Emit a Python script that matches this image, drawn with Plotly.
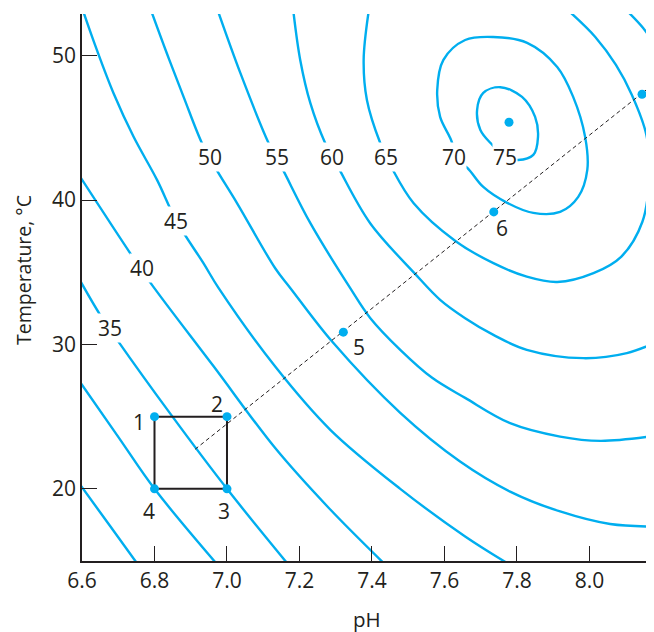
import plotly.graph_objects as go

# ---- data (pH, temperature in °C) ----
c25_ph = [6.59, 6.673, 6.755]
c25_t = [20.45, 17.58, 14.73]

c30_ph = [6.59, 6.70, 6.80, 6.97]
c30_t = [27.56, 23.6, 20.0, 14.85]

c35_ph = [6.59, 6.65, 6.697, 6.844, 7.0, 7.165]
c35_t = [34.63, 32.05, 30.32, 25.19, 20.0, 14.88]

c40_ph = [6.59, 6.742, 6.793, 6.962, 7.133, 7.279, 7.432]
c40_t = [41.8, 35.98, 34.13, 28.52, 22.82, 18.72, 14.86]

c45_ph = [6.603, 6.641, 6.687, 6.742, 6.807, 6.860, 6.935, 6.977, 7.133, 7.285, 7.478, 7.657, 7.77]
c45_t = [53.1, 50.40, 47.40, 44.40, 41.40, 38.58, 35.63, 33.90, 28.47, 24.09, 20.0, 16.70, 14.9]

c50_ph = [6.791, 6.834, 6.880, 6.931, 6.966, 7.028, 7.133, 7.175, 7.290, 7.478, 7.643, 7.781, 7.919, 8.057, 8.19]
c50_t = [53.1, 50.17, 47.17, 43.94, 42.32, 39.78, 35.28, 33.90, 30.20, 25.26, 21.89, 19.81, 18.43, 17.56, 17.38]

c55_ph = [6.975, 7.037, 7.115, 7.152, 7.230, 7.340, 7.395, 7.478, 7.566, 7.657, 7.781, 7.919, 8.030, 8.19]
c55_t = [53.1, 48.79, 43.94, 42.21, 38.40, 33.90, 31.84, 29.63, 27.69, 26.30, 24.55, 23.62, 23.32, 23.7]

c60_ph = [7.183, 7.202, 7.230, 7.271, 7.308, 7.395, 7.519, 7.588, 7.657, 7.735, 7.827, 7.983, 8.103, 8.19]
c60_t = [53.1, 49.71, 46.71, 43.94, 42.21, 38.40, 34.89, 33.09, 31.82, 30.66, 29.63, 29.05, 29.40, 30.21]

c60b_ph = [8.108, 8.148, 8.19]
c60b_t = [53.0, 51.92, 50.44]

c65_ph = [7.391, 7.377, 7.386, 7.423, 7.455, 7.515, 7.630, 7.735, 7.827, 7.911, 8.011, 8.088,
          8.146, 8.165, 8.157, 8.117, 8.073, 8.016, 7.943]
c65_t = [53.1, 49.71, 46.94, 43.94, 42.21, 39.78, 37.17, 35.63, 34.70, 34.33, 34.94, 36.09,
         38.5, 41.74, 44.51, 47.28, 49.36, 51.30, 53.1]

c70_ph = [7.624, 7.621, 7.588, 7.580, 7.597, 7.657, 7.734, 7.828, 7.911, 7.955, 7.988, 7.994,
          7.969, 7.919, 7.845, 7.773, 7.707, 7.663, 7.624]
c70_t = [42.99, 43.96, 45.76, 47.63, 49.71, 51.09, 51.30, 50.89, 49.22, 47.15, 44.38, 42.09,
         40.22, 39.18, 39.11, 39.81, 40.91, 42.23, 42.99]

c75_ph = [7.767, 7.732, 7.699, 7.690, 7.707, 7.754, 7.814, 7.850, 7.858, 7.845, 7.803, 7.767]
c75_t = [42.99, 43.82, 44.86, 46.25, 47.42, 47.82, 47.15, 45.76, 44.38, 43.13, 42.78, 42.99]

contour_lines = [
    (c25_ph, c25_t), (c30_ph, c30_t), (c35_ph, c35_t), (c40_ph, c40_t),
    (c45_ph, c45_t), (c50_ph, c50_t), (c55_ph, c55_t), (c60_ph, c60_t),
    (c60b_ph, c60b_t), (c65_ph, c65_t), (c70_ph, c70_t), (c75_ph, c75_t),
]

contour_labels = ["35", "40", "45", "50", "55", "60", "65", "70", "75"]
contour_label_ph = [6.678, 6.765, 6.860, 6.952, 7.138, 7.290, 7.439, 7.627, 7.767]
contour_label_t = [31.13, 35.28, 38.58, 43.01, 43.01, 43.01, 43.01, 43.01, 43.01]

# experimental points 1..7 and the optimum
point_ph = [6.8, 7.0, 7.0, 6.8, 7.321, 7.736, 8.145]
point_t = [25, 25, 20, 20, 30.85, 39.18, 47.33]
point_names = ["1", "2", "3", "4", "5", "6", "7"]
point_label_ph = [6.756, 6.972, 6.991, 6.786, 7.363, 7.758, 8.175]
point_label_t = [24.66, 25.87, 18.43, 18.43, 29.79, 38.05, 46.25]
optimum_ph = [7.778]
optimum_t = [45.39]

# factorial box and path of steepest ascent
box_ph = [6.8, 7.0, 7.0, 6.8, 6.8]
box_t = [25, 25, 20, 20, 25]
path_ph = [6.912, 8.2]
path_t = [22.74, 48.5]

x_ticks = [6.6, 6.8, 7.0, 7.2, 7.4, 7.6, 7.8, 8.0]
x_ticktext = ["6.6", "6.8", "7.0", "7.2", "7.4", "7.6", "7.8", "8.0"]
y_ticks = [20, 30, 40, 50]
y_ticktext = ["20", "30", "40", "50"]

CYAN = "#00aeef"
INK = "#231f20"
FONT = "Open Sans"
FS = 21

fig = go.Figure()
for ph, t in contour_lines:
    fig.add_trace(go.Scatter(x=ph, y=t, mode="lines",
                             line=dict(color=CYAN, width=2.4, shape="spline", smoothing=1.0),
                             hoverinfo="skip", showlegend=False))

fig.add_trace(go.Scatter(x=path_ph, y=path_t, mode="lines",
                         line=dict(color=INK, width=1, dash="4px,3px"),
                         hoverinfo="skip", showlegend=False))
fig.add_trace(go.Scatter(x=box_ph, y=box_t, mode="lines",
                         line=dict(color=INK, width=2),
                         hoverinfo="skip", showlegend=False))
fig.add_trace(go.Scatter(x=point_ph + optimum_ph, y=point_t + optimum_t, mode="markers",
                         marker=dict(color=CYAN, size=9),
                         cliponaxis=False, hoverinfo="skip", showlegend=False))

annotations = []
for txt, x, y in zip(contour_labels, contour_label_ph, contour_label_t):
    annotations.append(dict(x=x, y=y, xref="x", yref="y", text=txt, showarrow=False,
                            bgcolor="white", borderpad=0,
                            font=dict(family=FONT, size=FS, color=INK)))
for txt, x, y in zip(point_names, point_label_ph, point_label_t):
    annotations.append(dict(x=x, y=y, xref="x", yref="y", text=txt, showarrow=False,
                            font=dict(family=FONT, size=FS, color=INK)))

# page has an 8 px body margin, so the figure is 8 px smaller and margins are shifted
annotations.append(dict(x=-0.1014, y=0.532, xref="paper", yref="paper",
                        text="Temperature, °C", textangle=-90, showarrow=False,
                        xanchor="center", yanchor="middle",
                        font=dict(family=FONT, size=19.5, color=INK)))
annotations.append(dict(x=0.499, y=-0.106, xref="paper", yref="paper",
                        text="pH", showarrow=False, xanchor="center", yanchor="middle",
                        font=dict(family=FONT, size=20.5, color=INK)))

fig.update_layout(
    width=646, height=624,
    margin=dict(l=74, r=0, t=6, b=71, pad=0),
    paper_bgcolor="white", plot_bgcolor="white",
    annotations=annotations,
    font=dict(family=FONT, size=FS, color=INK),
)
fig.update_xaxes(range=[6.6, 8.178], tickvals=x_ticks, ticktext=x_ticktext,
                 showline=True, linecolor=INK, linewidth=1.5, ticks="inside",
                 ticklen=15, tickwidth=1, tickcolor=INK, showgrid=False, zeroline=False,
                 tickfont=dict(family=FONT, size=FS, color=INK))
fig.update_yaxes(range=[15, 52.89], tickvals=y_ticks, ticktext=y_ticktext,
                 showline=True, linecolor=INK, linewidth=1.5, ticks="inside",
                 ticklen=15, tickwidth=1, tickcolor=INK, showgrid=False, zeroline=False,
                 tickfont=dict(family=FONT, size=FS, color=INK))

fig.write_html("out.html")
